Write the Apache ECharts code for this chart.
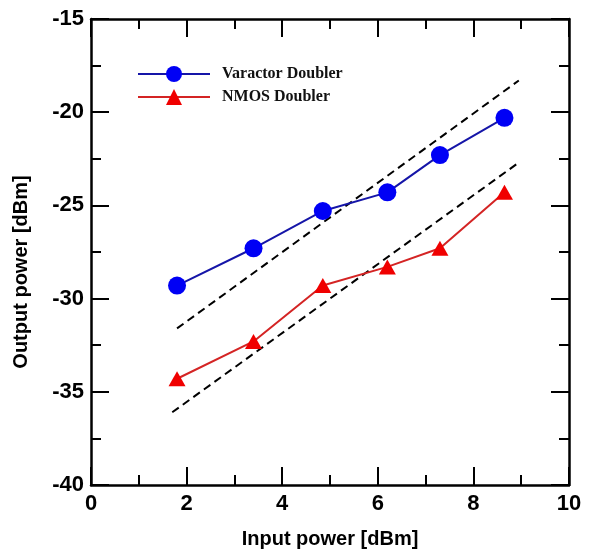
<!DOCTYPE html>
<html>
<head>
<meta charset="utf-8">
<script src="https://cdn.jsdelivr.net/npm/echarts@6/dist/echarts.min.js"></script>
<style>
html,body{margin:0;padding:0;background:#fff;}
#c{width:616px;height:554px;}
</style>
</head>
<body>
<div id="c"></div>
<script>
// ---- data ----
const inputPower = [1.8, 3.4, 4.85, 6.2, 7.3, 8.65];
const varactorOut = [-29.3, -27.3, -25.3, -24.3, -22.3, -20.3];
const nmosOut = [-34.3, -32.3, -29.3, -28.3, -27.3, -24.3];
const upperGuideX = [1.8, 8.95];
const upperGuideY = [-31.6, -18.3];
const lowerGuideX = [1.7, 8.95];
const lowerGuideY = [-36.1, -22.7];
const seriesNames = ['Varactor Doubler', 'NMOS Doubler'];
const xTicks = {min: 0, max: 10, interval: 2};
const yTicks = {min: -40, max: -15, interval: 5};

const zip = (a, b) => a.map((v, i) => [v, b[i]]);
const labelFont = {fontFamily: 'Liberation Sans, Arial', fontWeight: 'bold', fontSize: 22, color: '#000'};
const nameFont = {fontFamily: 'Liberation Sans, Arial', fontWeight: 'bold', fontSize: 20, color: '#000'};
const axisLine = {show: true, onZero: false, lineStyle: {color: '#000', width: 2.5}};
const tick = {show: true, inside: true, length: 18, lineStyle: {color: '#000', width: 2}};
const minor = {show: true, splitNumber: 2, length: 10, lineStyle: {color: '#000', width: 2}};

const chart = echarts.init(document.getElementById('c'), null, {renderer: 'canvas'});
chart.setOption({
  animation: false,
  backgroundColor: '#fff',
  grid: {left: 91, right: 47, top: 19, bottom: 68, containLabel: false},
  legend: {
    data: seriesNames,
    orient: 'vertical',
    left: 137, top: 66, padding: 0,
    itemWidth: 72, itemHeight: 20, itemGap: 7,
    textStyle: {fontFamily: 'Liberation Serif, Times New Roman', fontWeight: 'bold', fontSize: 16, color: '#111', padding: [0, 0, 0, 7]}
  },
  xAxis: [{
    type: 'value', min: xTicks.min, max: xTicks.max, interval: xTicks.interval,
    name: 'Input power [dBm]', nameLocation: 'middle', nameGap: 44,
    nameTextStyle: nameFont,
    axisLine: axisLine, axisTick: tick, minorTick: minor,
    axisLabel: Object.assign({margin: 8}, labelFont),
    splitLine: {show: false}
  }, {
    type: 'value', position: 'top', min: xTicks.min, max: xTicks.max, interval: xTicks.interval,
    axisLine: axisLine, axisTick: tick, minorTick: minor,
    axisLabel: {show: false}, splitLine: {show: false}
  }],
  yAxis: [{
    type: 'value', min: yTicks.min, max: yTicks.max, interval: yTicks.interval,
    name: 'Output power [dBm]', nameLocation: 'middle', nameGap: 60,
    nameTextStyle: Object.assign({padding: [0, 40, 0, 0]}, nameFont),
    axisLine: axisLine, axisTick: tick, minorTick: minor,
    axisLabel: Object.assign({margin: 7}, labelFont),
    splitLine: {show: false}
  }, {
    type: 'value', position: 'right', min: yTicks.min, max: yTicks.max, interval: yTicks.interval,
    axisLine: axisLine, axisTick: tick, minorTick: minor,
    axisLabel: {show: false}, splitLine: {show: false}
  }],
  series: [
    {
      name: 'guide1', type: 'line', data: zip(upperGuideX, upperGuideY), symbol: 'none', silent: true,
      lineStyle: {color: '#000', width: 2, type: [8, 5]}, z: 1
    },
    {
      name: 'guide2', type: 'line', data: zip(lowerGuideX, lowerGuideY), symbol: 'none', silent: true,
      lineStyle: {color: '#000', width: 2, type: [8, 5]}, z: 1
    },
    {
      name: seriesNames[0], type: 'line', data: zip(inputPower, varactorOut),
      symbol: 'circle', symbolSize: 18,
      lineStyle: {color: '#1515a8', width: 2},
      itemStyle: {color: '#0000f5'}, z: 3
    },
    {
      name: seriesNames[1], type: 'line', data: zip(inputPower, nmosOut),
      symbol: 'triangle', symbolSize: [17, 15],
      lineStyle: {color: '#d42424', width: 2},
      itemStyle: {color: '#f00000'}, z: 3
    }
  ]
});
</script>
</body>
</html>
